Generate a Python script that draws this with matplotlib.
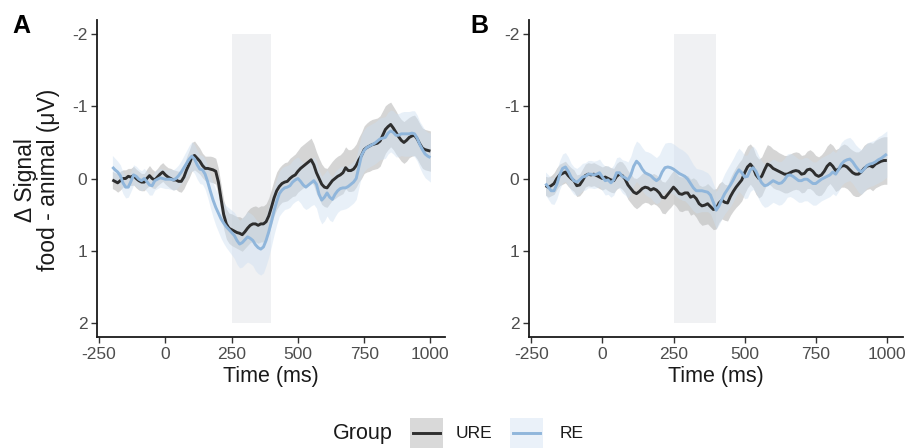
import numpy as np
import matplotlib
matplotlib.use("Agg")
import matplotlib.pyplot as plt
from matplotlib.patches import Rectangle
from matplotlib.lines import Line2D

plt.rcParams['font.family'] = ['Liberation Sans', 'DejaVu Sans']

# ---------------- data ----------------
time_ms = np.arange(-200, 1001, 10)

ure_a = [0.02, 0.04, 0.06, 0.03, 0.00, 0.00, -0.03, -0.02, -0.04, 0.00,
         0.03, 0.05, 0.05, 0.00, -0.04, 0.00, 0.02, -0.02, -0.06, -0.09,
         -0.05, -0.02, 0.00, 0.02, 0.02, 0.04, 0.04, -0.02, -0.12, -0.20,
         -0.30, -0.32, -0.28, -0.24, -0.18, -0.14, -0.14, -0.13, -0.12, -0.10,
         0.05, 0.28, 0.50, 0.63, 0.69, 0.71, 0.73, 0.75, 0.76, 0.78,
         0.74, 0.69, 0.65, 0.63, 0.63, 0.65, 0.63, 0.63, 0.60, 0.52,
         0.40, 0.27, 0.17, 0.11, 0.07, 0.05, 0.04, 0.00, -0.03, -0.05,
         -0.10, -0.14, -0.17, -0.20, -0.23, -0.26, -0.19, -0.08, 0.00, 0.08,
         0.12, 0.13, 0.08, 0.03, 0.00, -0.03, -0.05, -0.08, -0.15, -0.11,
         -0.11, -0.13, -0.18, -0.26, -0.32, -0.40, -0.43, -0.45, -0.47, -0.48,
         -0.49, -0.52, -0.60, -0.68, -0.72, -0.75, -0.70, -0.64, -0.58, -0.53,
         -0.50, -0.53, -0.57, -0.59, -0.60, -0.55, -0.48, -0.42, -0.40, -0.39,
         -0.38]

re_a = [-0.16, -0.12, -0.09, -0.04, 0.06, 0.12, 0.12, 0.04, -0.05, -0.03,
        0.01, 0.03, 0.00, 0.04, 0.09, 0.10, 0.03, 0.01, -0.01, 0.00,
        0.01, 0.01, 0.01, 0.02, 0.00, -0.04, -0.09, -0.15, -0.21, -0.27,
        -0.31, -0.27, -0.19, -0.13, -0.12, -0.06, 0.05, 0.18, 0.30, 0.40,
        0.48, 0.56, 0.62, 0.67, 0.71, 0.75, 0.79, 0.86, 0.91, 0.89,
        0.85, 0.81, 0.83, 0.86, 0.92, 0.96, 0.98, 0.95, 0.86, 0.74,
        0.60, 0.45, 0.32, 0.21, 0.16, 0.13, 0.12, 0.10, 0.05, 0.02,
        0.00, 0.04, 0.09, 0.12, 0.09, 0.06, 0.03, 0.08, 0.22, 0.30,
        0.26, 0.20, 0.26, 0.29, 0.22, 0.17, 0.14, 0.13, 0.13, 0.11,
        0.08, 0.05, 0.00, -0.16, -0.32, -0.39, -0.43, -0.45, -0.47, -0.49,
        -0.52, -0.55, -0.56, -0.57, -0.63, -0.66, -0.64, -0.60, -0.60, -0.62,
        -0.62, -0.62, -0.62, -0.63, -0.62, -0.56, -0.47, -0.40, -0.34, -0.31,
        -0.29]

ure_b = [0.10, 0.12, 0.10, 0.07, 0.00, -0.05, -0.07, -0.09, -0.04, 0.00,
         0.03, 0.10, 0.09, 0.03, -0.04, -0.06, -0.05, -0.06, -0.04, -0.02,
         0.00, -0.02, 0.00, 0.02, 0.03, -0.03, -0.06, -0.04, 0.01, 0.09,
         0.14, 0.19, 0.21, 0.18, 0.14, 0.12, 0.13, 0.16, 0.14, 0.16,
         0.20, 0.26, 0.27, 0.22, 0.17, 0.12, 0.16, 0.21, 0.22, 0.20,
         0.20, 0.26, 0.24, 0.28, 0.35, 0.38, 0.37, 0.35, 0.39, 0.43,
         0.42, 0.34, 0.30, 0.33, 0.34, 0.25, 0.18, 0.12, 0.07, 0.02,
         -0.08, -0.16, -0.20, -0.15, -0.05, 0.00, -0.03, -0.12, -0.20, -0.18,
         -0.14, -0.12, -0.10, -0.08, -0.06, -0.06, -0.08, -0.10, -0.11, -0.10,
         -0.06, -0.07, -0.12, -0.13, -0.10, -0.05, -0.03, -0.05, -0.10, -0.17,
         -0.21, -0.17, -0.11, -0.13, -0.17, -0.18, -0.16, -0.12, -0.08, -0.06,
         -0.06, -0.09, -0.14, -0.17, -0.18, -0.16, -0.20, -0.22, -0.24, -0.25,
         -0.25]

re_b = [0.07, 0.12, 0.17, 0.17, 0.08, -0.05, -0.14, -0.16, -0.10, -0.02,
        0.03, 0.05, 0.02, -0.02, -0.03, -0.06, -0.06, -0.05, -0.06, -0.08,
        -0.02, 0.03, 0.02, 0.06, 0.02, -0.08, -0.08, -0.03, -0.01, 0.02,
        -0.05, -0.17, -0.24, -0.20, -0.13, -0.08, -0.06, -0.04, 0.00, 0.03,
        0.00, -0.09, -0.15, -0.16, -0.15, -0.13, -0.10, -0.07, -0.05, -0.03,
        0.01, 0.07, 0.13, 0.17, 0.17, 0.17, 0.18, 0.19, 0.23, 0.33,
        0.44, 0.38, 0.29, 0.21, 0.15, 0.09, 0.02, -0.06, -0.12, -0.08,
        -0.02, -0.03, -0.12, -0.15, -0.10, -0.01, 0.06, 0.10, 0.09, 0.06,
        0.03, 0.05, 0.07, 0.06, 0.02, -0.04, -0.05, -0.03, 0.00, 0.03,
        0.03, 0.01, 0.01, 0.04, 0.07, 0.07, 0.04, 0.01, -0.01, -0.03,
        -0.05, -0.09, -0.06, -0.12, -0.20, -0.24, -0.26, -0.27, -0.23, -0.17,
        -0.12, -0.09, -0.13, -0.18, -0.20, -0.21, -0.23, -0.26, -0.28, -0.31,
        -0.34]

# ribbon half-widths
ure_a_hw = [0.12, 0.12, 0.13, 0.13, 0.12, 0.12, 0.11, 0.12, 0.13, 0.13,
            0.13, 0.12, 0.12, 0.13, 0.14, 0.13, 0.12, 0.12, 0.13, 0.13,
            0.13, 0.13, 0.14, 0.14, 0.13, 0.14, 0.15, 0.16, 0.18, 0.19,
            0.20, 0.20, 0.19, 0.18, 0.17, 0.17, 0.17, 0.18, 0.18, 0.18,
            0.19, 0.20, 0.20, 0.21, 0.21, 0.22, 0.22, 0.22, 0.23, 0.23,
            0.23, 0.24, 0.24, 0.24, 0.25, 0.25, 0.25, 0.25, 0.25, 0.25,
            0.25, 0.25, 0.26, 0.26, 0.26, 0.27, 0.27, 0.28, 0.28, 0.29,
            0.29, 0.30, 0.30, 0.30, 0.30, 0.30, 0.29, 0.29, 0.28, 0.28,
            0.27, 0.27, 0.27, 0.27, 0.28, 0.28, 0.28, 0.29, 0.29, 0.29,
            0.29, 0.30, 0.30, 0.31, 0.32, 0.33, 0.34, 0.35, 0.35, 0.35,
            0.35, 0.35, 0.34, 0.33, 0.32, 0.31, 0.30, 0.30, 0.29, 0.29,
            0.29, 0.29, 0.28, 0.28, 0.28, 0.28, 0.28, 0.28, 0.28, 0.28,
            0.28]
re_a_hw = [0.16, 0.16, 0.15, 0.15, 0.15, 0.15, 0.14, 0.14, 0.14, 0.14,
           0.14, 0.14, 0.14, 0.14, 0.14, 0.13, 0.13, 0.13, 0.13, 0.13,
           0.13, 0.13, 0.14, 0.14, 0.15, 0.15, 0.16, 0.17, 0.18, 0.19,
           0.20, 0.20, 0.20, 0.20, 0.20, 0.21, 0.22, 0.23, 0.24, 0.25,
           0.26, 0.27, 0.28, 0.29, 0.30, 0.31, 0.32, 0.33, 0.33, 0.34,
           0.34, 0.35, 0.35, 0.35, 0.36, 0.36, 0.36, 0.36, 0.35, 0.35,
           0.34, 0.33, 0.32, 0.31, 0.31, 0.30, 0.30, 0.30, 0.30, 0.30,
           0.30, 0.30, 0.31, 0.31, 0.32, 0.32, 0.33, 0.33, 0.33, 0.33,
           0.33, 0.32, 0.32, 0.31, 0.31, 0.30, 0.30, 0.30, 0.29, 0.29,
           0.29, 0.29, 0.29, 0.29, 0.29, 0.29, 0.29, 0.29, 0.29, 0.29,
           0.29, 0.29, 0.29, 0.29, 0.29, 0.29, 0.30, 0.30, 0.30, 0.30,
           0.31, 0.31, 0.31, 0.31, 0.32, 0.32, 0.32, 0.33, 0.33, 0.33,
           0.34]
ure_b_hw = [0.13, 0.14, 0.14, 0.15, 0.15, 0.15, 0.15, 0.15, 0.15, 0.15,
            0.15, 0.15, 0.15, 0.16, 0.16, 0.16, 0.16, 0.16, 0.16, 0.16,
            0.16, 0.16, 0.17, 0.17, 0.17, 0.18, 0.18, 0.19, 0.19, 0.20,
            0.20, 0.20, 0.21, 0.21, 0.21, 0.21, 0.21, 0.21, 0.21, 0.21,
            0.21, 0.22, 0.22, 0.22, 0.23, 0.23, 0.23, 0.24, 0.24, 0.24,
            0.24, 0.25, 0.25, 0.26, 0.26, 0.27, 0.27, 0.28, 0.28, 0.28,
            0.28, 0.27, 0.26, 0.25, 0.25, 0.26, 0.27, 0.28, 0.29, 0.29,
            0.29, 0.29, 0.28, 0.28, 0.27, 0.27, 0.27, 0.27, 0.27, 0.27,
            0.27, 0.27, 0.26, 0.26, 0.26, 0.26, 0.26, 0.26, 0.26, 0.26,
            0.26, 0.26, 0.26, 0.27, 0.27, 0.27, 0.27, 0.28, 0.28, 0.28,
            0.28, 0.29, 0.29, 0.29, 0.29, 0.30, 0.30, 0.30, 0.31, 0.31,
            0.31, 0.31, 0.32, 0.32, 0.32, 0.33, 0.33, 0.33, 0.33, 0.33,
            0.33]
re_b_hw = [0.16, 0.17, 0.18, 0.19, 0.20, 0.20, 0.20, 0.20, 0.20, 0.19,
           0.19, 0.19, 0.19, 0.19, 0.19, 0.19, 0.19, 0.19, 0.19, 0.19,
           0.19, 0.20, 0.20, 0.20, 0.21, 0.21, 0.22, 0.23, 0.24, 0.25,
           0.26, 0.27, 0.28, 0.29, 0.30, 0.30, 0.31, 0.31, 0.32, 0.32,
           0.33, 0.33, 0.34, 0.34, 0.35, 0.35, 0.35, 0.35, 0.35, 0.34,
           0.34, 0.33, 0.32, 0.31, 0.30, 0.29, 0.28, 0.27, 0.26, 0.26,
           0.26, 0.26, 0.27, 0.28, 0.29, 0.30, 0.30, 0.30, 0.30, 0.30,
           0.30, 0.30, 0.30, 0.30, 0.30, 0.30, 0.30, 0.30, 0.30, 0.30,
           0.30, 0.30, 0.30, 0.30, 0.30, 0.30, 0.30, 0.30, 0.30, 0.30,
           0.30, 0.30, 0.30, 0.30, 0.30, 0.30, 0.30, 0.30, 0.30, 0.30,
           0.30, 0.30, 0.30, 0.30, 0.30, 0.30, 0.30, 0.30, 0.30, 0.30,
           0.31, 0.31, 0.31, 0.31, 0.31, 0.31, 0.31, 0.32, 0.32, 0.32,
           0.32]

window = (250, 400)
window_y = (-2, 2)
x_ticks = [-250, 0, 250, 500, 750, 1000]
y_ticks = [-2, -1, 0, 1, 2]
groups = ["URE", "RE"]
panel_labels = ["A", "B"]

# ---------------- style ----------------
line_col = {"URE": "#2e2e2e", "RE": "#90b6db"}
rib_col = {"URE": "#b3b3b3", "RE": "#cddff1"}
rib_alpha = {"URE": 0.55, "RE": 0.45}
tick_col = "#4d4d4d"

W, H = 906, 448
fig = plt.figure(figsize=(W / 100, H / 100), dpi=100)


def fx(px):
    return px / W


def fy(py):
    return 1 - py / H


ax_a = fig.add_axes([fx(97), fy(337), fx(445) - fx(97), fy(20) - fy(337)])
ax_b = fig.add_axes([fx(529), fy(337), fx(902.5) - fx(529), fy(20) - fy(337)])

panels = [
    (ax_a, {"URE": ure_a, "RE": re_a}, {"URE": ure_a_hw, "RE": re_a_hw}),
    (ax_b, {"URE": ure_b, "RE": re_b}, {"URE": ure_b_hw, "RE": re_b_hw}),
]

for ax, lines, hws in panels:
    ax.fill_between(window, [window_y[0]] * 2, [window_y[1]] * 2,
                    color="#f0f1f3", lw=0, zorder=0)
    for g in groups:
        v = np.array(lines[g])
        hw = np.array(hws[g])
        ax.fill_between(time_ms, v - hw, v + hw, color=rib_col[g],
                        alpha=rib_alpha[g], lw=0, zorder=1)
    for g in groups:
        ax.plot(time_ms, lines[g], color=line_col[g], lw=2.1, zorder=3,
                solid_capstyle="butt")
    ax.set_xlim(-258, 1055)
    ax.set_ylim(2.2, -2.2)
    ax.set_xticks(x_ticks)
    ax.set_yticks(y_ticks)
    ax.set_xticklabels([str(t) for t in x_ticks])
    ax.set_yticklabels([str(t) for t in y_ticks])
    for s in ["top", "right"]:
        ax.spines[s].set_visible(False)
    for s in ["left", "bottom"]:
        ax.spines[s].set_linewidth(1.3)
        ax.spines[s].set_color("#1a1a1a")
    ax.tick_params(axis="both", length=4, width=1.0, color="#333333",
                   labelcolor=tick_col, labelsize=12.5, pad=3)
    ax.set_xlabel("Time (ms)", fontsize=15.5, color="#1a1a1a", labelpad=3)

fig.text(fx(37), fy(180), "\u0394 Signal\nfood - animal (\u03bcV)",
         rotation=90, ha="center", va="center", multialignment="center",
         fontsize=16.5, color="#1a1a1a", linespacing=1.05)

fig.text(fx(12), fy(33), "A", fontsize=18, fontweight="bold",
         ha="left", va="baseline")
fig.text(fx(470), fy(33), "B", fontsize=18, fontweight="bold",
         ha="left", va="baseline")

# ---------------- legend ----------------
fig.text(fx(333), fy(433), "Group", fontsize=15.5, ha="left", va="center",
         color="#1a1a1a")
key_x = {"URE": 410, "RE": 510}
lab_x = {"URE": 456, "RE": 560}
key_fill = {"URE": "#d9d9d9", "RE": "#eaf1f9"}
for g in groups:
    fig.patches.append(Rectangle((fx(key_x[g]), fy(448)), fx(33), fy(418) - fy(448),
                                 transform=fig.transFigure, facecolor=key_fill[g],
                                 edgecolor="none"))
    fig.lines.append(Line2D([fx(key_x[g] + 3), fx(key_x[g] + 30)], [fy(433), fy(433)],
                            transform=fig.transFigure, color=line_col[g], lw=2.1))
    fig.text(fx(lab_x[g]), fy(433), g, fontsize=12.5, ha="left", va="center",
             color="#1a1a1a")

fig.savefig("out.png", dpi=100)
